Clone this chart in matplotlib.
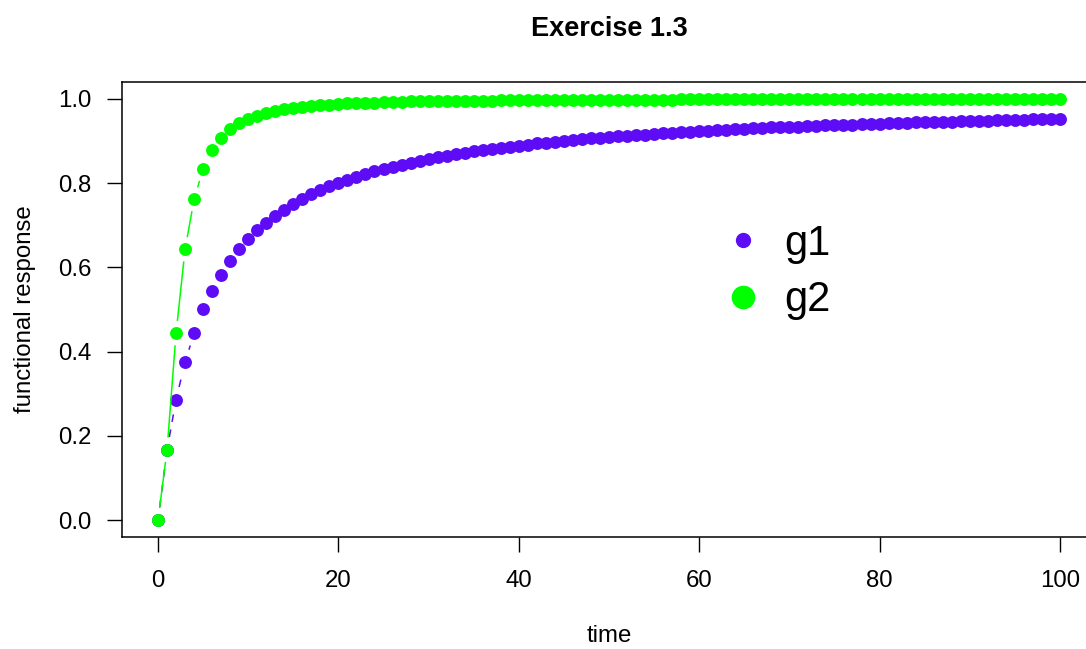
import numpy as np
import matplotlib.pyplot as plt
from matplotlib.lines import Line2D

plt.rcParams['font.family'] = ['Liberation Sans', 'DejaVu Sans']

time = list(range(0, 101))

# valeurs
g1 = [0.000, 0.167, 0.286, 0.375, 0.444, 0.500, 0.545, 0.583, 0.615, 0.643,
      0.667, 0.688, 0.706, 0.722, 0.737, 0.750, 0.762, 0.773, 0.783, 0.792,
      0.800, 0.808, 0.815, 0.821, 0.828, 0.833, 0.839, 0.844, 0.848, 0.853,
      0.857, 0.861, 0.865, 0.868, 0.872, 0.875, 0.878, 0.881, 0.884, 0.886,
      0.889, 0.891, 0.894, 0.896, 0.898, 0.900, 0.902, 0.904, 0.906, 0.907,
      0.909, 0.911, 0.912, 0.914, 0.915, 0.917, 0.918, 0.919, 0.921, 0.922,
      0.923, 0.924, 0.925, 0.926, 0.928, 0.929, 0.930, 0.931, 0.932, 0.932,
      0.933, 0.934, 0.935, 0.936, 0.937, 0.938, 0.938, 0.939, 0.940, 0.940,
      0.941, 0.942, 0.943, 0.943, 0.944, 0.944, 0.945, 0.946, 0.946, 0.947,
      0.947, 0.948, 0.948, 0.949, 0.949, 0.950, 0.950, 0.951, 0.951, 0.952,
      0.952]

g2 = [0.000, 0.167, 0.444, 0.643, 0.762, 0.833, 0.878, 0.907, 0.928, 0.942,
      0.952, 0.960, 0.966, 0.971, 0.975, 0.978, 0.981, 0.983, 0.985, 0.986,
      0.988, 0.989, 0.990, 0.991, 0.991, 0.992, 0.993, 0.993, 0.994, 0.994,
      0.994, 0.995, 0.995, 0.995, 0.996, 0.996, 0.996, 0.996, 0.997, 0.997,
      0.997, 0.997, 0.997, 0.997, 0.997, 0.998, 0.998, 0.998, 0.998, 0.998,
      0.998, 0.998, 0.998, 0.998, 0.998, 0.998, 0.998, 0.998, 0.999, 0.999,
      0.999, 0.999, 0.999, 0.999, 0.999, 0.999, 0.999, 0.999, 0.999, 0.999,
      0.999, 0.999, 0.999, 0.999, 0.999, 0.999, 0.999, 0.999, 0.999, 0.999,
      0.999, 0.999, 0.999, 0.999, 0.999, 0.999, 0.999, 0.999, 0.999, 0.999,
      0.999, 0.999, 0.999, 0.999, 0.999, 0.999, 0.999, 0.999, 0.999, 0.999,
      0.999]

col1 = '#5E0CF5'
col2 = '#00FF00'

fig = plt.figure(figsize=(10.86, 6.49), dpi=100)
ax = fig.add_axes([0.1123, 0.1726, 0.8969, 0.7011])
ax.set_xlim(-4, 104)
ax.set_ylim(-0.04, 1.04)


def type_b(x, y, color, ls, gap=13):
    # segments raccourcis autour des points, comme type="b" dans R
    pts = ax.transData.transform(np.column_stack([x, y]))
    inv = ax.transData.inverted()
    for p, q in zip(pts[:-1], pts[1:]):
        d = q - p
        n = np.hypot(*d)
        if n <= 2 * gap:
            continue
        u = d / n
        a, b = inv.transform([p + u * gap, q - u * gap])
        ax.plot([a[0], b[0]], [a[1], b[1]], color=color, lw=1.1, linestyle=ls)
    ax.plot(x, y, 'o', color=color, ms=9.3, mew=0)


type_b(time, g1, col1, (0, (5, 5)))
type_b(time, g2, col2, '-')

ax.set_xticks([0, 20, 40, 60, 80, 100])
ax.set_yticks([0.0, 0.2, 0.4, 0.6, 0.8, 1.0])
ax.set_yticklabels(['0.0', '0.2', '0.4', '0.6', '0.8', '1.0'])
ax.tick_params(axis='both', labelsize=17.3, length=10.8, width=1, direction='out')
ax.tick_params(axis='x', pad=13)
ax.tick_params(axis='y', pad=11)
for s in ax.spines.values():
    s.set_linewidth(1.1)

ax.set_xlabel('time', fontsize=17.3, labelpad=24)
ax.set_ylabel('functional response', fontsize=17.3, labelpad=16)
fig.suptitle('Exercise 1.3', fontsize=19.5, fontweight='bold', x=0.561, y=0.975)

handles = [Line2D([], [], marker='o', ls='', color=col1, ms=11, mew=0),
           Line2D([], [], marker='o', ls='', color=col2, ms=17, mew=0)]
ax.legend(handles, ['g1', 'g2'], loc='center left', bbox_to_anchor=(0.573, 0.582),
          frameon=False, fontsize=30, handletextpad=0.4, labelspacing=0.39,
          handlelength=1.2)

plt.savefig('out.png', dpi=100)
